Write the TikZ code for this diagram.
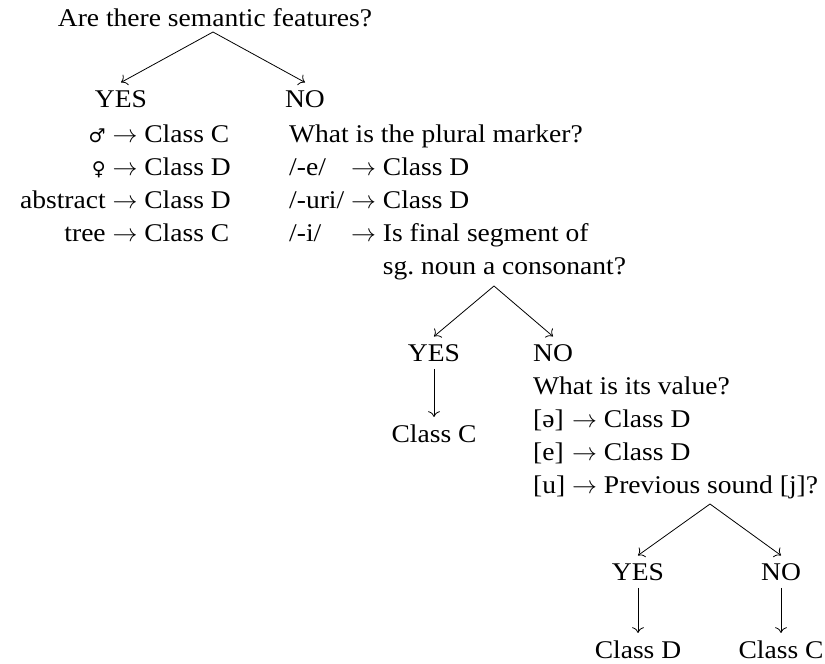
\documentclass[tikz,border=0pt]{standalone}
\usepackage{fontspec}
\setmainfont[FakeStretch=1.08]{Liberation Serif}
\newfontfamily\genderfont{DejaVu Sans}
\usetikzlibrary{positioning, arrows.meta}

\newcommand{\gsym}[1]{{\genderfont\fontsize{19}{19}\selectfont #1}}

\begin{document}
\begin{tikzpicture}[x=1pt, y=-1pt, node distance=48pt]
\tikzstyle{question} = [inner sep=0pt, font=\fontsize{25.5}{33}\selectfont]
\tikzstyle{answer} = [inner sep=7.5pt, font=\fontsize{25.5}{33}\selectfont]
\tikzstyle{arrow} = [line width=0.8pt, ->, >={To[scale=1.7]}]

\useasboundingbox (0,0) rectangle (825,664);

\node (qSemantic) [question, anchor=base] at (215,26) {Are there semantic features?};
\coordinate (splitSem) at (213,32);
\node (yesSem) [answer, anchor=base] at (121,107) {YES};
\node (noSem) [answer, anchor=base] at (305,107) {NO};

\node (semList) [question, anchor=base east] at (231,142) {%
\begin{tabular}[t]{@{}r@{\ }c@{\ }l@{}}
\gsym{♂} & $\to$ & Class C\\
\gsym{♀} & $\to$ & Class D\\
abstract & $\to$ & Class D\\
tree & $\to$ & Class C
\end{tabular}};

\node (pluralList) [question, anchor=base west] at (289,142) {%
\begin{tabular}[t]{@{}l@{\ }c@{\ }l@{}}
\multicolumn{3}{@{}l@{}}{What is the plural marker?}\\
/-e/ & $\to$ & Class D\\
/-uri/ & $\to$ & Class D\\
/-i/ & $\to$ & Is final segment of\\
 & & sg.\ noun a consonant?
\end{tabular}};

\coordinate (splitCons) at (494,286);
\node (yesCons) [answer, anchor=base] at (434,361) {YES};
\node (noCons) [answer, anchor=base] at (553,361) {NO};
\node (classCons) [answer, below=of yesCons] {Class C};

\node (valueList) [question, anchor=base west] at (533,394) {%
\begin{tabular}[t]{@{}l@{\ }c@{\ }l@{}}
\multicolumn{3}{@{}l@{}}{What is its value?}\\
{[ə]} & $\to$ & Class D\\
{[e]} & $\to$ & Class D\\
{[u]} & $\to$ & Previous sound [j]?
\end{tabular}};

\coordinate (splitPrev) at (710,504);
\node (yesPrev) [answer, anchor=base] at (638,580) {YES};
\node (noPrev) [answer, anchor=base] at (781,580) {NO};
\node (classPrevYes) [answer, below=45pt of yesPrev] {Class D};
\node (classPrevNo) [answer, below=45pt of noPrev] {Class C};

\draw [arrow] (splitSem) -- (yesSem.north);
\draw [arrow] (splitSem) -- (noSem.north);
\draw [arrow] (splitCons) -- (yesCons.north);
\draw [arrow] (splitCons) -- (noCons.north);
\draw [arrow] (yesCons) -- (classCons);
\draw [arrow] (splitPrev) -- (yesPrev.north);
\draw [arrow] (splitPrev) -- (noPrev.north);
\draw [arrow] (yesPrev) -- (classPrevYes);
\draw [arrow] (noPrev) -- (classPrevNo);

\end{tikzpicture}
\end{document}
